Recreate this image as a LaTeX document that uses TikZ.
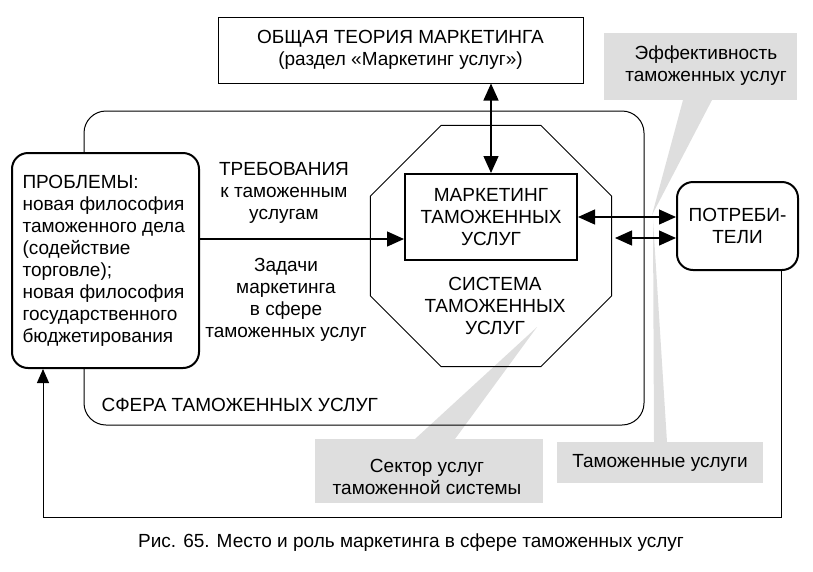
\documentclass[tikz,border=0pt]{standalone}
\usepackage{fontspec}
\setmainfont{Liberation Sans}
\usetikzlibrary{arrows.meta,shapes.geometric}

\begin{document}
\begin{tikzpicture}[x=1pt,y=-1pt]
\tikzset{txt/.style={font=\fontsize{19}{22}\selectfont, align=center},
  boite/.style={draw, line width=1pt, inner sep=0pt},
  grosboite/.style={draw, line width=2pt, fill=white, rounded corners=16pt, inner sep=0pt},
  bulle/.style={fill=black!13, draw=none},
  fleche/.style={line width=1.3pt, -{Triangle[length=17pt,width=15pt]}},
  dfleche/.style={line width=1.3pt, {Triangle[length=17pt,width=15pt]}-{Triangle[length=17pt,width=15pt]}}}
\useasboundingbox (0,0) rectangle (813,571);
\fill[bulle] (604,33) rectangle (797,100);
\fill[bulle] (683,100) -- (652,215) -- (712,100) -- cycle;
\fill[bulle] (315,439) rectangle (543,503);
\fill[bulle] (415,439) -- (537,327) -- (455,439) -- cycle;
\fill[bulle] (557,442) rectangle (763,483);
\fill[bulle] (654,442) -- (653,220) -- (667,442) -- cycle;
\node[txt] (eff) at (706,66) {Эффективность\\таможенных услуг};
\node[txt] (sect) at (427,477) {Сектор услуг\\таможенной системы};
\node[txt] (uslugi) at (660,463) {Таможенные услуги};
\draw[line width=1pt, rounded corners=22pt] (84,111) rectangle (644,425);
\node[txt, anchor=west] (sfera) at (98,405) {СФЕРА ТАМОЖЕННЫХ УСЛУГ};
\node[draw, line width=1pt, regular polygon, regular polygon sides=8, minimum size=261pt, inner sep=0pt] (sys) at (491,246) {};
\node[txt] (syslab) at (495,306) {СИСТЕМА\\ТАМОЖЕННЫХ\\УСЛУГ};
\node[boite, minimum width=365pt, minimum height=66pt] (theory) at (400.5,50) {};
\node[txt] at (theory) {ОБЩАЯ ТЕОРИЯ МАРКЕТИНГА\\(раздел «Маркетинг услуг»)};
\node[boite, line width=2pt, minimum width=172pt, minimum height=86pt] (mark) at (491,217) {};
\node[txt] at (mark) {МАРКЕТИНГ\\ТАМОЖЕННЫХ\\УСЛУГ};
\node[grosboite, minimum width=187pt, minimum height=215pt] (prob) at (105.5,260.5) {};
\node[txt, align=left, anchor=west] at (prob.west) {\hspace*{8pt}ПРОБЛЕМЫ:\\\hspace*{8pt}новая философия\\\hspace*{8pt}таможенного дела\\\hspace*{8pt}(содействие\\\hspace*{8pt}торговле);\\\hspace*{8pt}новая философия\\\hspace*{8pt}государственного\\\hspace*{8pt}бюджетирования};
\node[grosboite, minimum width=121pt, minimum height=88pt] (cons) at (737.5,226) {};
\node[txt] at (cons) {ПОТРЕБИ-\\ТЕЛИ};
\node[txt] (treb) at (284,193) {ТРЕБОВАНИЯ\\к таможенным\\услугам};
\node[txt] (zad) at (286,300) {Задачи\\маркетинга\\в сфере\\таможенных услуг};
\coordinate (req) at (300,239);
\coordinate (bas) at (615,238);
\coordinate (fb) at (43,517);
\draw[dfleche] (mark.north |- theory.south) -- (mark.north);
\draw[fleche] (prob.east |- req) -- (mark.west |- req);
\draw[dfleche] (mark.east) -- (cons.west |- mark.east);
\draw[dfleche] (bas) -- (cons.west |- bas);
\draw[line width=1pt, -{Triangle[length=14pt,width=12pt]}] ([xshift=44pt]cons.south) |- (fb) -- (prob.south -| fb);
\node[txt] (legende) at (411,543) {Рис. 65. Место и роль маркетинга в сфере таможенных услуг};
\end{tikzpicture}
\end{document}
